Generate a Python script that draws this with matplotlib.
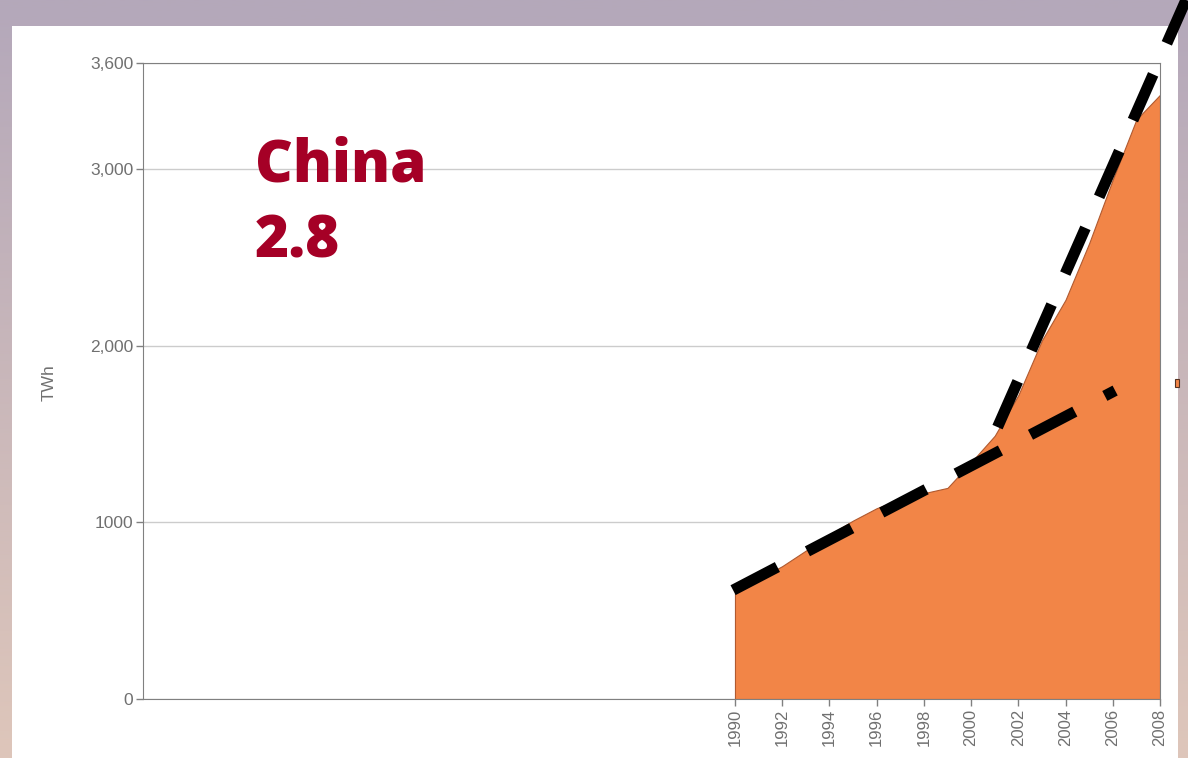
import numpy as np
import matplotlib.pyplot as plt
from matplotlib.patches import Rectangle

# China electricity generation, TWh
years = [1990, 1991, 1992, 1993, 1994, 1995, 1996, 1997, 1998, 1999,
         2000, 2001, 2002, 2003, 2004, 2005, 2006, 2007, 2008]
twh = [616, 680, 752, 840, 930, 1010, 1080, 1130, 1165, 1195,
       1340, 1490, 1720, 2030, 2260, 2580, 2940, 3280, 3420]

yticks = [0, 1000, 2000, 3000, 3600]
ytick_labels = ['0', '1000', '2,000', '3,000', '3,600']
xticks = list(range(1990, 2009, 2))

# hand-drawn trend lines (year, TWh)
trend_low_x = [1989.92, 2006.1]
trend_low_y = [616, 1746]
trend_high_x = [2001.12, 2009.10]
trend_high_y = [1539, 3957]

fig = plt.figure(figsize=(11.88, 7.58), dpi=100)

# background gradient
bg = fig.add_axes([0, 0, 1, 1], zorder=-10)
top = np.array([180, 168, 186]) / 255
bot = np.array([222, 198, 186]) / 255
t = np.linspace(0, 1, 256)[:, None, None]
grad = top * (1 - t) + bot * t
bg.imshow(grad, aspect='auto', extent=[0, 1, 0, 1])
bg.add_patch(Rectangle((12 / 1188, 0), (1178 - 12) / 1188, (758 - 26) / 758,
                       facecolor='white', edgecolor='none'))
# legend marker peeking out at the right
bg.add_patch(Rectangle((1175 / 1188, (758 - 387) / 758), 4 / 1188, 8 / 758,
                       facecolor='#f28547', edgecolor='#553322', lw=0.8))
bg.set_xlim(0, 1)
bg.set_ylim(0, 1)
bg.axis('off')

ax = fig.add_axes([143 / 1188, 59 / 758, 1017 / 1188, 636 / 758])
ax.fill_between(years, twh, 0, color='#f28547', edgecolor='#b05a30', lw=0.8)
ax.set_xlim(1964.93, 2008)
ax.set_ylim(0, 3600)
ax.set_yticks(yticks)
ax.set_yticklabels(ytick_labels, color='#707070', fontsize=12.5, family='Liberation Sans')
ax.set_xticks(xticks)
ax.set_xticklabels([str(x) for x in xticks], rotation=90, color='#707070', fontsize=12,
                   family='Liberation Sans')
ax.tick_params(length=5, color='#808080', width=1, pad=2)
ax.grid(axis='y', color='#cccccc', lw=1)
ax.set_axisbelow(True)
for s in ax.spines.values():
    s.set_color('#808080')
ax.set_ylabel('TWh', color='#707070', fontsize=12.5, family='Liberation Sans')
ax.yaxis.set_label_coords(-(143 - 57) / 1017, (699 - 383) / 636)

for xs, ys in [(trend_low_x, trend_low_y), (trend_high_x, trend_high_y)]:
    ln, = ax.plot(xs, ys, color='black', lw=8, clip_on=False, solid_capstyle='butt',
                  dash_capstyle='butt', zorder=5)
    ln.set_dashes((4.5, 3.05))

fig.text(255 / 1188, 1 - 182 / 758, 'China', color='#a50026', fontsize=42,
         fontweight='heavy', family='Open Sans')
fig.text(255 / 1188, 1 - 258 / 758, '2.8', color='#a50026', fontsize=42,
         fontweight='heavy', family='Open Sans')

fig.savefig('out.png', dpi=100)
